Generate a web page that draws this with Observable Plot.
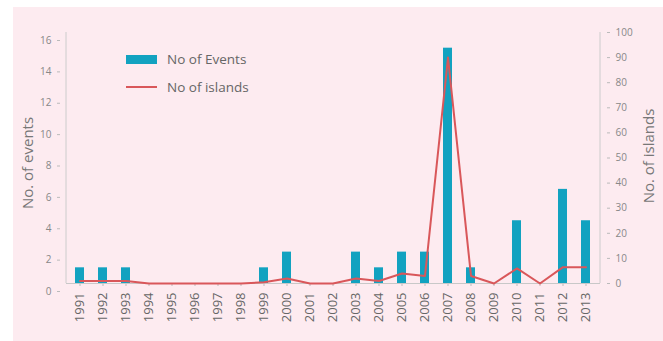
<!DOCTYPE html>
<html>
<head>
<meta charset="utf-8">
<script src="https://cdn.jsdelivr.net/npm/d3@7"></script>
<script src="https://cdn.jsdelivr.net/npm/@observablehq/plot@0.6"></script>
<style>
  html, body { margin: 0; padding: 0; background: #ffffff; }
  #wrap { position: relative; width: 663px; height: 341px; overflow: hidden; }
  #bg { position: absolute; left: 13px; top: 7px; width: 650px; height: 334px; background: #fdebf0; }
  #chart { position: absolute; left: 0; top: 0; }
  .legend { position: absolute; font-family: "Open Sans", sans-serif; font-size: 13.5px; color: #666; display: flex; align-items: center; height: 16px; }
</style>
</head>
<body>
<div id="wrap">
  <div id="bg"></div>
  <div id="chart"></div>
  <div class="legend" style="left:126px; top:51px;">
    <span style="display:inline-block;width:31px;height:9px;background:#12a2c0;margin-right:10px;"></span>No of Events
  </div>
  <div class="legend" style="left:126px; top:79px;">
    <span style="display:inline-block;width:31px;height:2px;background:#d9575a;margin-right:10px;"></span>No of islands
  </div>
</div>
<script>
const years = ["1991","1992","1993","1994","1995","1996","1997","1998","1999","2000","2001","2002","2003","2004","2005","2006","2007","2008","2009","2010","2011","2012","2013"];
const events = [1,1,1,0,0,0,0,0,1,2,0,0,2,1,2,2,15,1,0,4,0,6,4];
const islands = [1,1,1,0,0,0,0,0,0.5,2,0,0,2,1,4,3,90,3,0,6,0,6.5,6.5];
const leftTicks = [0,2,4,6,8,10,12,14,16];
const rightTicks = [0,10,20,30,40,50,60,70,80,90,100];

const k = 16 / 100; // islands -> events scale
const data = years.map((y, i) => ({year: y, events: events[i], islands: islands[i]}));

const chart = Plot.plot({
  width: 663,
  height: 341,
  marginLeft: 66,
  marginRight: 63,
  marginTop: 32,
  marginBottom: 58,
  style: {background: "transparent", fontFamily: "Open Sans, sans-serif", fontSize: "10px", color: "#777"},
  x: {type: "band", domain: years, paddingInner: 0.59, paddingOuter: 0.4, axis: null},
  y: {domain: [0, 16], axis: null},
  marks: [
    Plot.axisY({anchor: "left", ticks: leftTicks, tickSize: 3, tickFormat: d => d, dy: 8, dx: -6, fill: "#888", stroke: "#bbb", label: null, fontSize: 10}),
    Plot.axisY({anchor: "right", ticks: rightTicks.map(v => v * k), tickSize: 3, tickFormat: d => Math.round(d / k), dx: 6, fill: "#888", stroke: "#bbb", label: null, fontSize: 10}),
    Plot.axisX({anchor: "bottom", tickRotate: -90, tickSize: 3, tickPadding: 6, fill: "#666", stroke: "#bbb", label: null, fontSize: 13}),
    Plot.ruleY([0], {stroke: "#c8c8c8"}),
    Plot.barY(data, {x: "year", y: "events", fill: "#12a2c0"}),
    Plot.lineY(data, {x: "year", y: d => d.islands * k, stroke: "#d9575a", strokeWidth: 2, curve: "linear"}),
    Plot.text(["No. of events"], {frameAnchor: "left", textAnchor: "middle", dx: -38, dy: 5, rotate: -90, fontSize: 15, fill: "#777", text: d => d}),
    Plot.text(["No. of islands"], {frameAnchor: "right", textAnchor: "middle", dx: 49, dy: -2, rotate: -90, fontSize: 15, fill: "#777", text: d => d})
  ]
});
document.getElementById("chart").appendChild(chart);
const svg = d3.select(chart);
svg.append("line").attr("x1", 66).attr("x2", 66).attr("y1", 32).attr("y2", 283).attr("stroke", "#ccc");
svg.append("line").attr("x1", 600).attr("x2", 600).attr("y1", 32).attr("y2", 283).attr("stroke", "#ccc");
</script>
</body>
</html>
